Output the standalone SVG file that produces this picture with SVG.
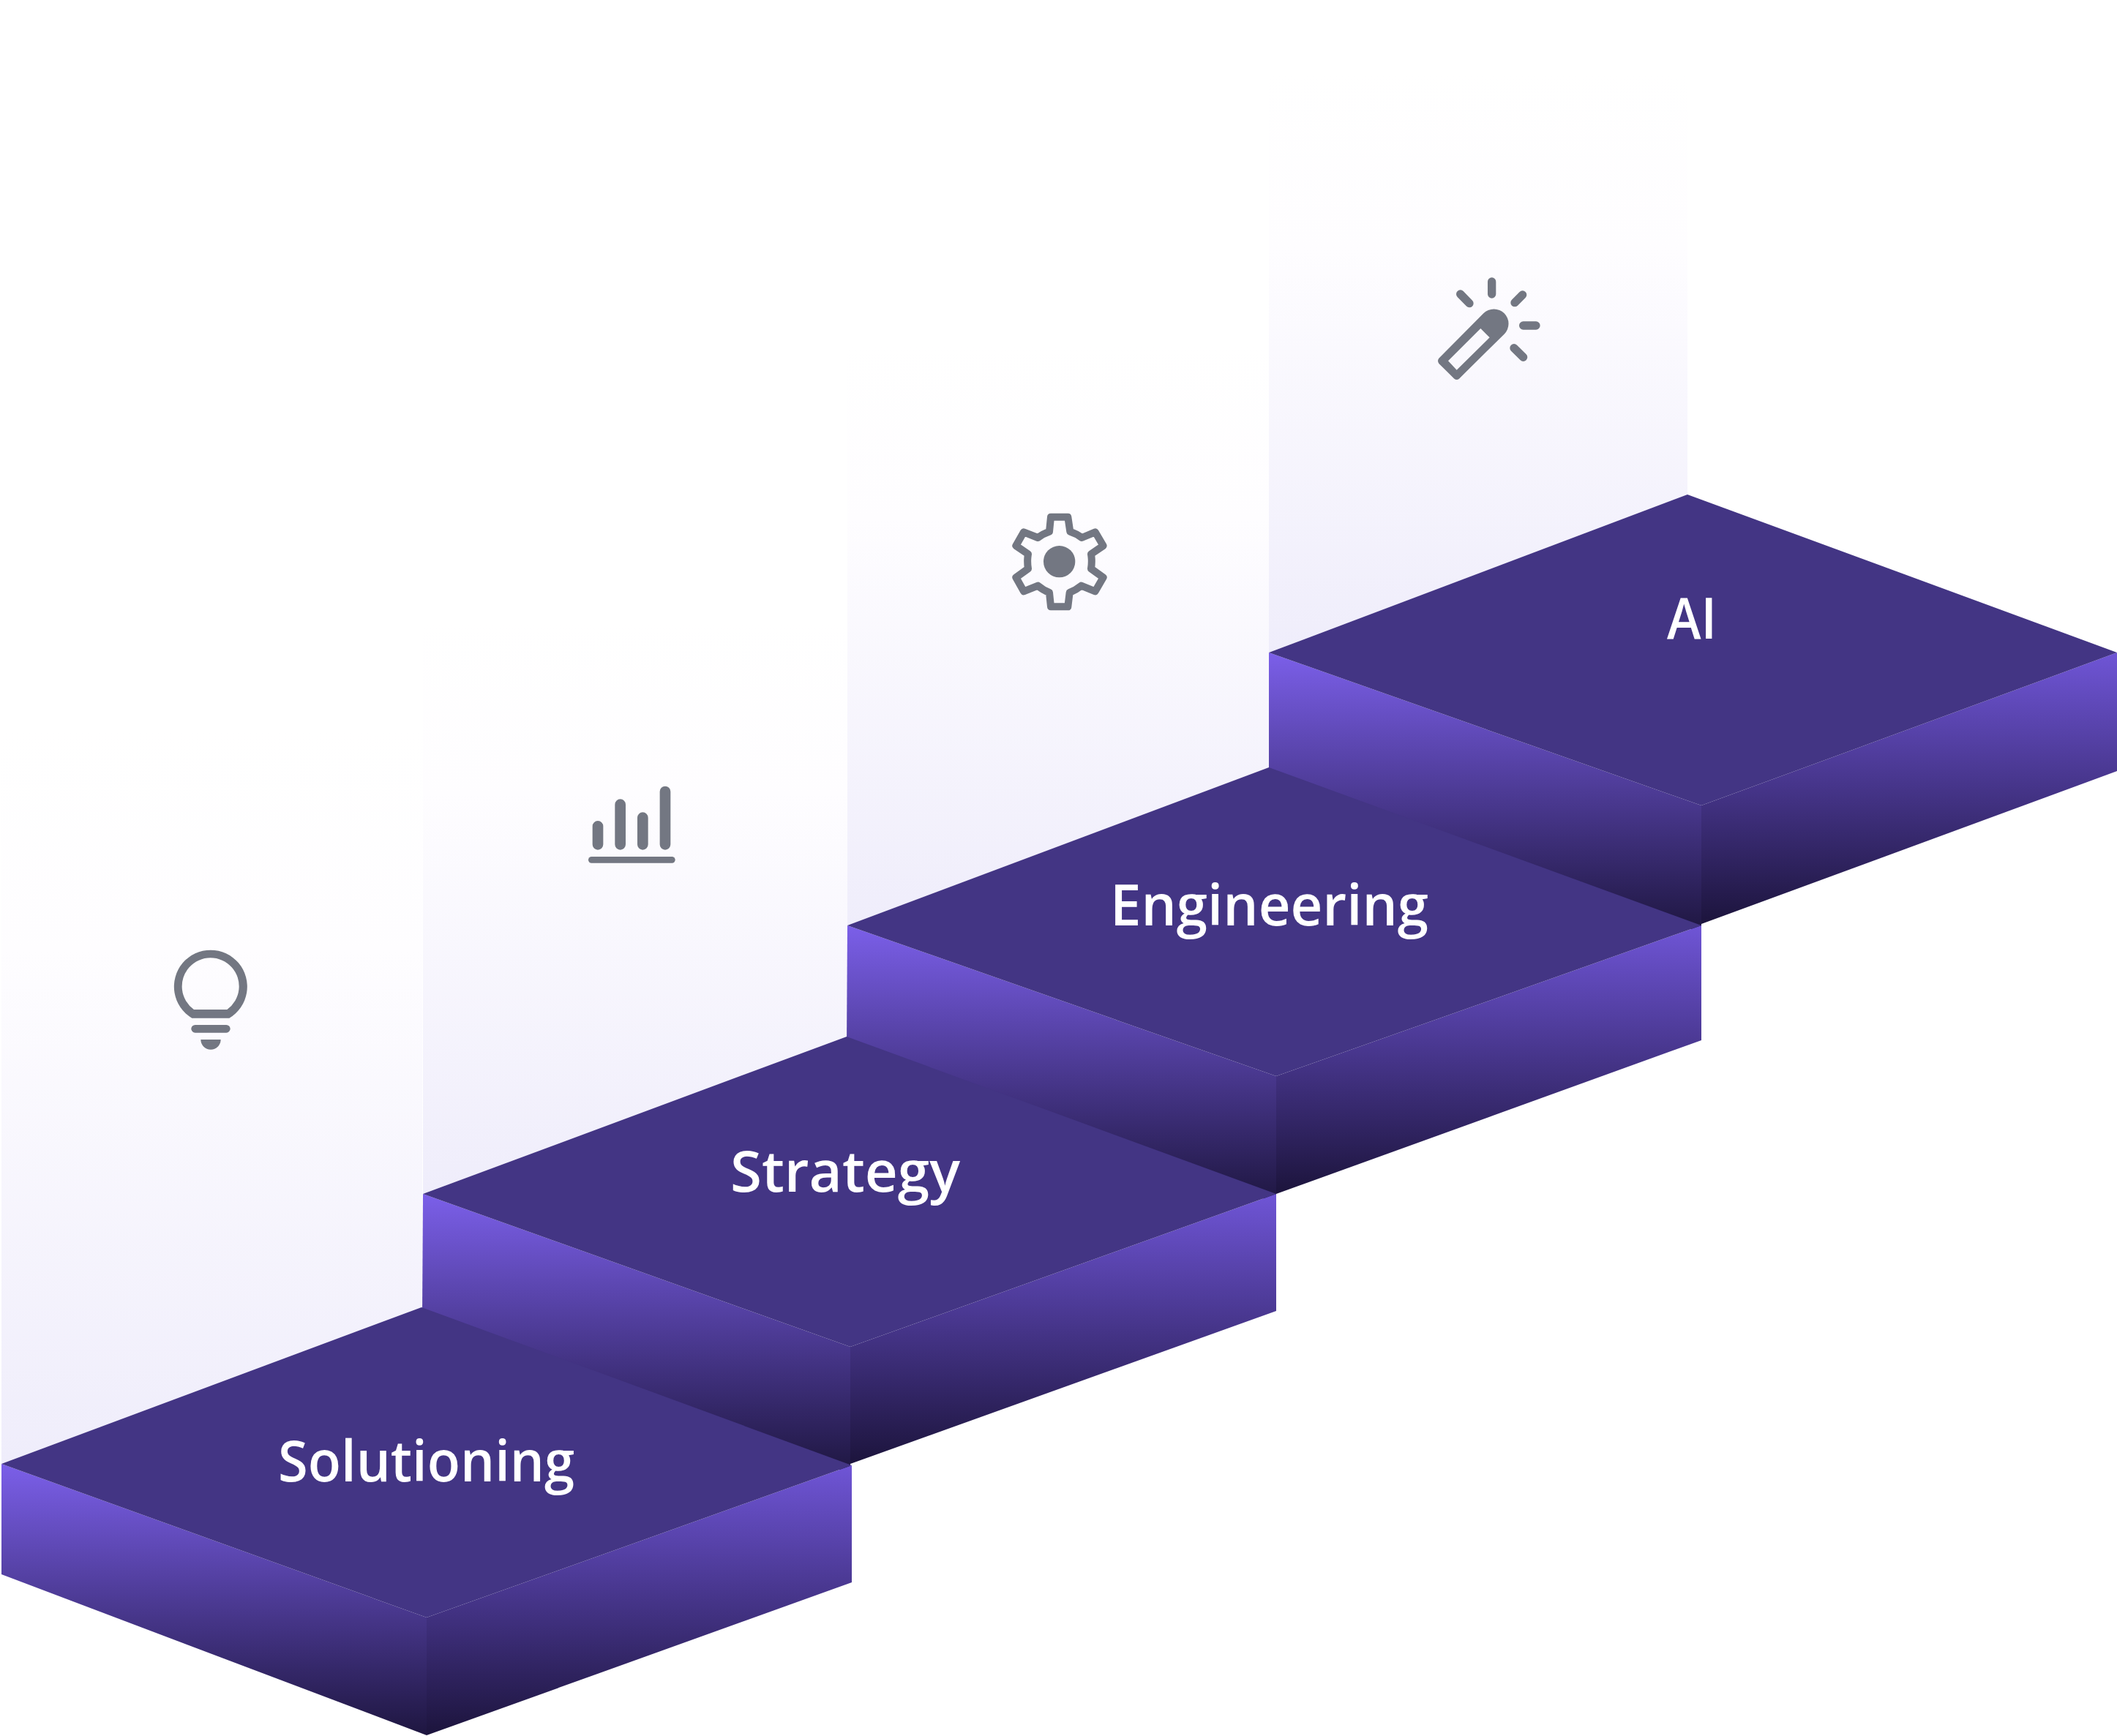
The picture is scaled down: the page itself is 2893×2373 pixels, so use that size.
<svg xmlns="http://www.w3.org/2000/svg" width="2893" height="2373" viewBox="0 0 2893 2373">
<style>
.top{fill:#433584}
.l{fill:url(#gl)}
.r{fill:url(#gr)}
.p{fill:url(#gp)}
.t{font-family:"Open Sans","Liberation Sans",sans-serif;font-size:78px;fill:#fff;font-weight:600}
.ic{fill:none;stroke:#737782;stroke-linecap:round;stroke-linejoin:round}
.if{fill:#737782}
</style>
<defs>
<linearGradient id="gl" x1="0" y1="0" x2="0" y2="1"><stop offset="0" stop-color="#7b5fe9"/><stop offset="1" stop-color="#1e1640"/></linearGradient>
<linearGradient id="gr" x1="0" y1="0" x2="0" y2="1"><stop offset="0" stop-color="#6f55d6"/><stop offset="1" stop-color="#1c143c"/></linearGradient>
<linearGradient id="gp" x1="0" y1="0" x2="0" y2="1"><stop offset="0" stop-color="#fff"/><stop offset="0.3" stop-color="#fefdff"/><stop offset="1" stop-color="#efedfb"/></linearGradient>
</defs>
<rect width="2893" height="2373" fill="#fff"/>
<g id="panel-solutioning"><polygon class="p" points="2,1000 577,1000 577,1788 2,2001"/></g>
<g id="panel-strategy"><polygon class="p" points="578,850 1158,850 1158,1418 578,1632"/></g>
<g id="panel-engineering"><polygon class="p" points="1158,470 1734,470 1734,1050 1158,1265"/></g>
<g id="panel-ai"><polygon class="p" points="1734,100 2306,100 2306,677 1734,892"/></g>
<g id="step-ai">
<polygon class="l" points="1734,892 2325,1101 2325,1275 1734,1060"/>
<polygon class="r" points="2325,1101 2893,892 2893,1054 2325,1263"/>
<polygon class="top" points="1734,892 2306,676 2893,892 2325,1101"/>
<text class="t" x="2278" y="873" textLength="68" lengthAdjust="spacingAndGlyphs">AI</text>
</g>
<g id="step-engineering">
<polygon class="l" points="1158,1265 1744,1471 1744,1645 1157,1430"/>
<polygon class="r" points="1744,1471 2325,1265 2325,1422 1744,1632"/>
<polygon class="top" points="1158,1265 1734,1049 2325,1265 1744,1471"/>
<text class="t" x="1517" y="1265" textLength="435" lengthAdjust="spacingAndGlyphs">Engineering</text>
</g>
<g id="step-strategy">
<polygon class="l" points="578,1632 1162,1841 1162,2014 577,1800"/>
<polygon class="r" points="1162,1841 1744,1632 1744,1792 1162,2001"/>
<polygon class="top" points="578,1632 1157,1417 1744,1632 1162,1841"/>
<text class="t" x="998" y="1629" textLength="314" lengthAdjust="spacingAndGlyphs">Strategy</text>
</g>
<g id="step-solutioning">
<polygon class="l" points="2,2001 583,2211 583,2372 2,2152"/>
<polygon class="r" points="583,2211 1164,2003 1164,2163 583,2372"/>
<polygon class="top" points="2,2001 576,1787 1164,2003 583,2211"/>
<text class="t" x="380" y="2025" textLength="405" lengthAdjust="spacingAndGlyphs">Solutioning</text>
</g>
<g id="icon-bulb" transform="translate(210 1270) scale(.3333)">
<path class="if" fill-rule="evenodd" d="M157,365A150,150 0 1 1 310,365ZM165,330H301A117,117 0 1 0 165,330Z"/>
<path class="ic" stroke-width="32" d="M170,409H298"/>
<path class="if" d="M193,453H275A41,41 0 0 1 193,453Z"/>
</g>
<g id="icon-bars" transform="translate(780 1050) scale(.3333)">
<path class="ic" stroke-width="44" d="M111,238V313M203,149V313M295,203V313M387,96V313"/>
<path class="ic" stroke-width="26" d="M85,376H415"/>
</g>
<g id="icon-gear" transform="translate(1340 670) scale(.3333)">
<path class="ic" stroke-width="30" d="M288,110H358L367,170Q393,178 415,195L470,172L503,228L453,262Q458,292 453,322L503,358L470,415L413,392Q391,410 365,420L358,478H288L282,420Q256,410 235,392L177,415L145,358L195,322Q190,292 195,262L145,228L177,172L235,195Q257,178 282,170Z"/>
<circle class="if" cx="323" cy="293" r="65"/>
</g>
<g id="icon-wand" transform="translate(1900 340) scale(.3333)">
<path class="ic" stroke-width="34" d="M416,135V186M287,186L324,224M542,189L510,221M545,315H597M507,407L545,445"/>
<path class="if" fill-rule="evenodd" d="M199,449Q191,460 199,471L262,533Q272,541 282,533L467,350A60,60 0 0 0 382,265ZM237,460L272,497L407,364L370,327Z"/>
</g>
</svg>
